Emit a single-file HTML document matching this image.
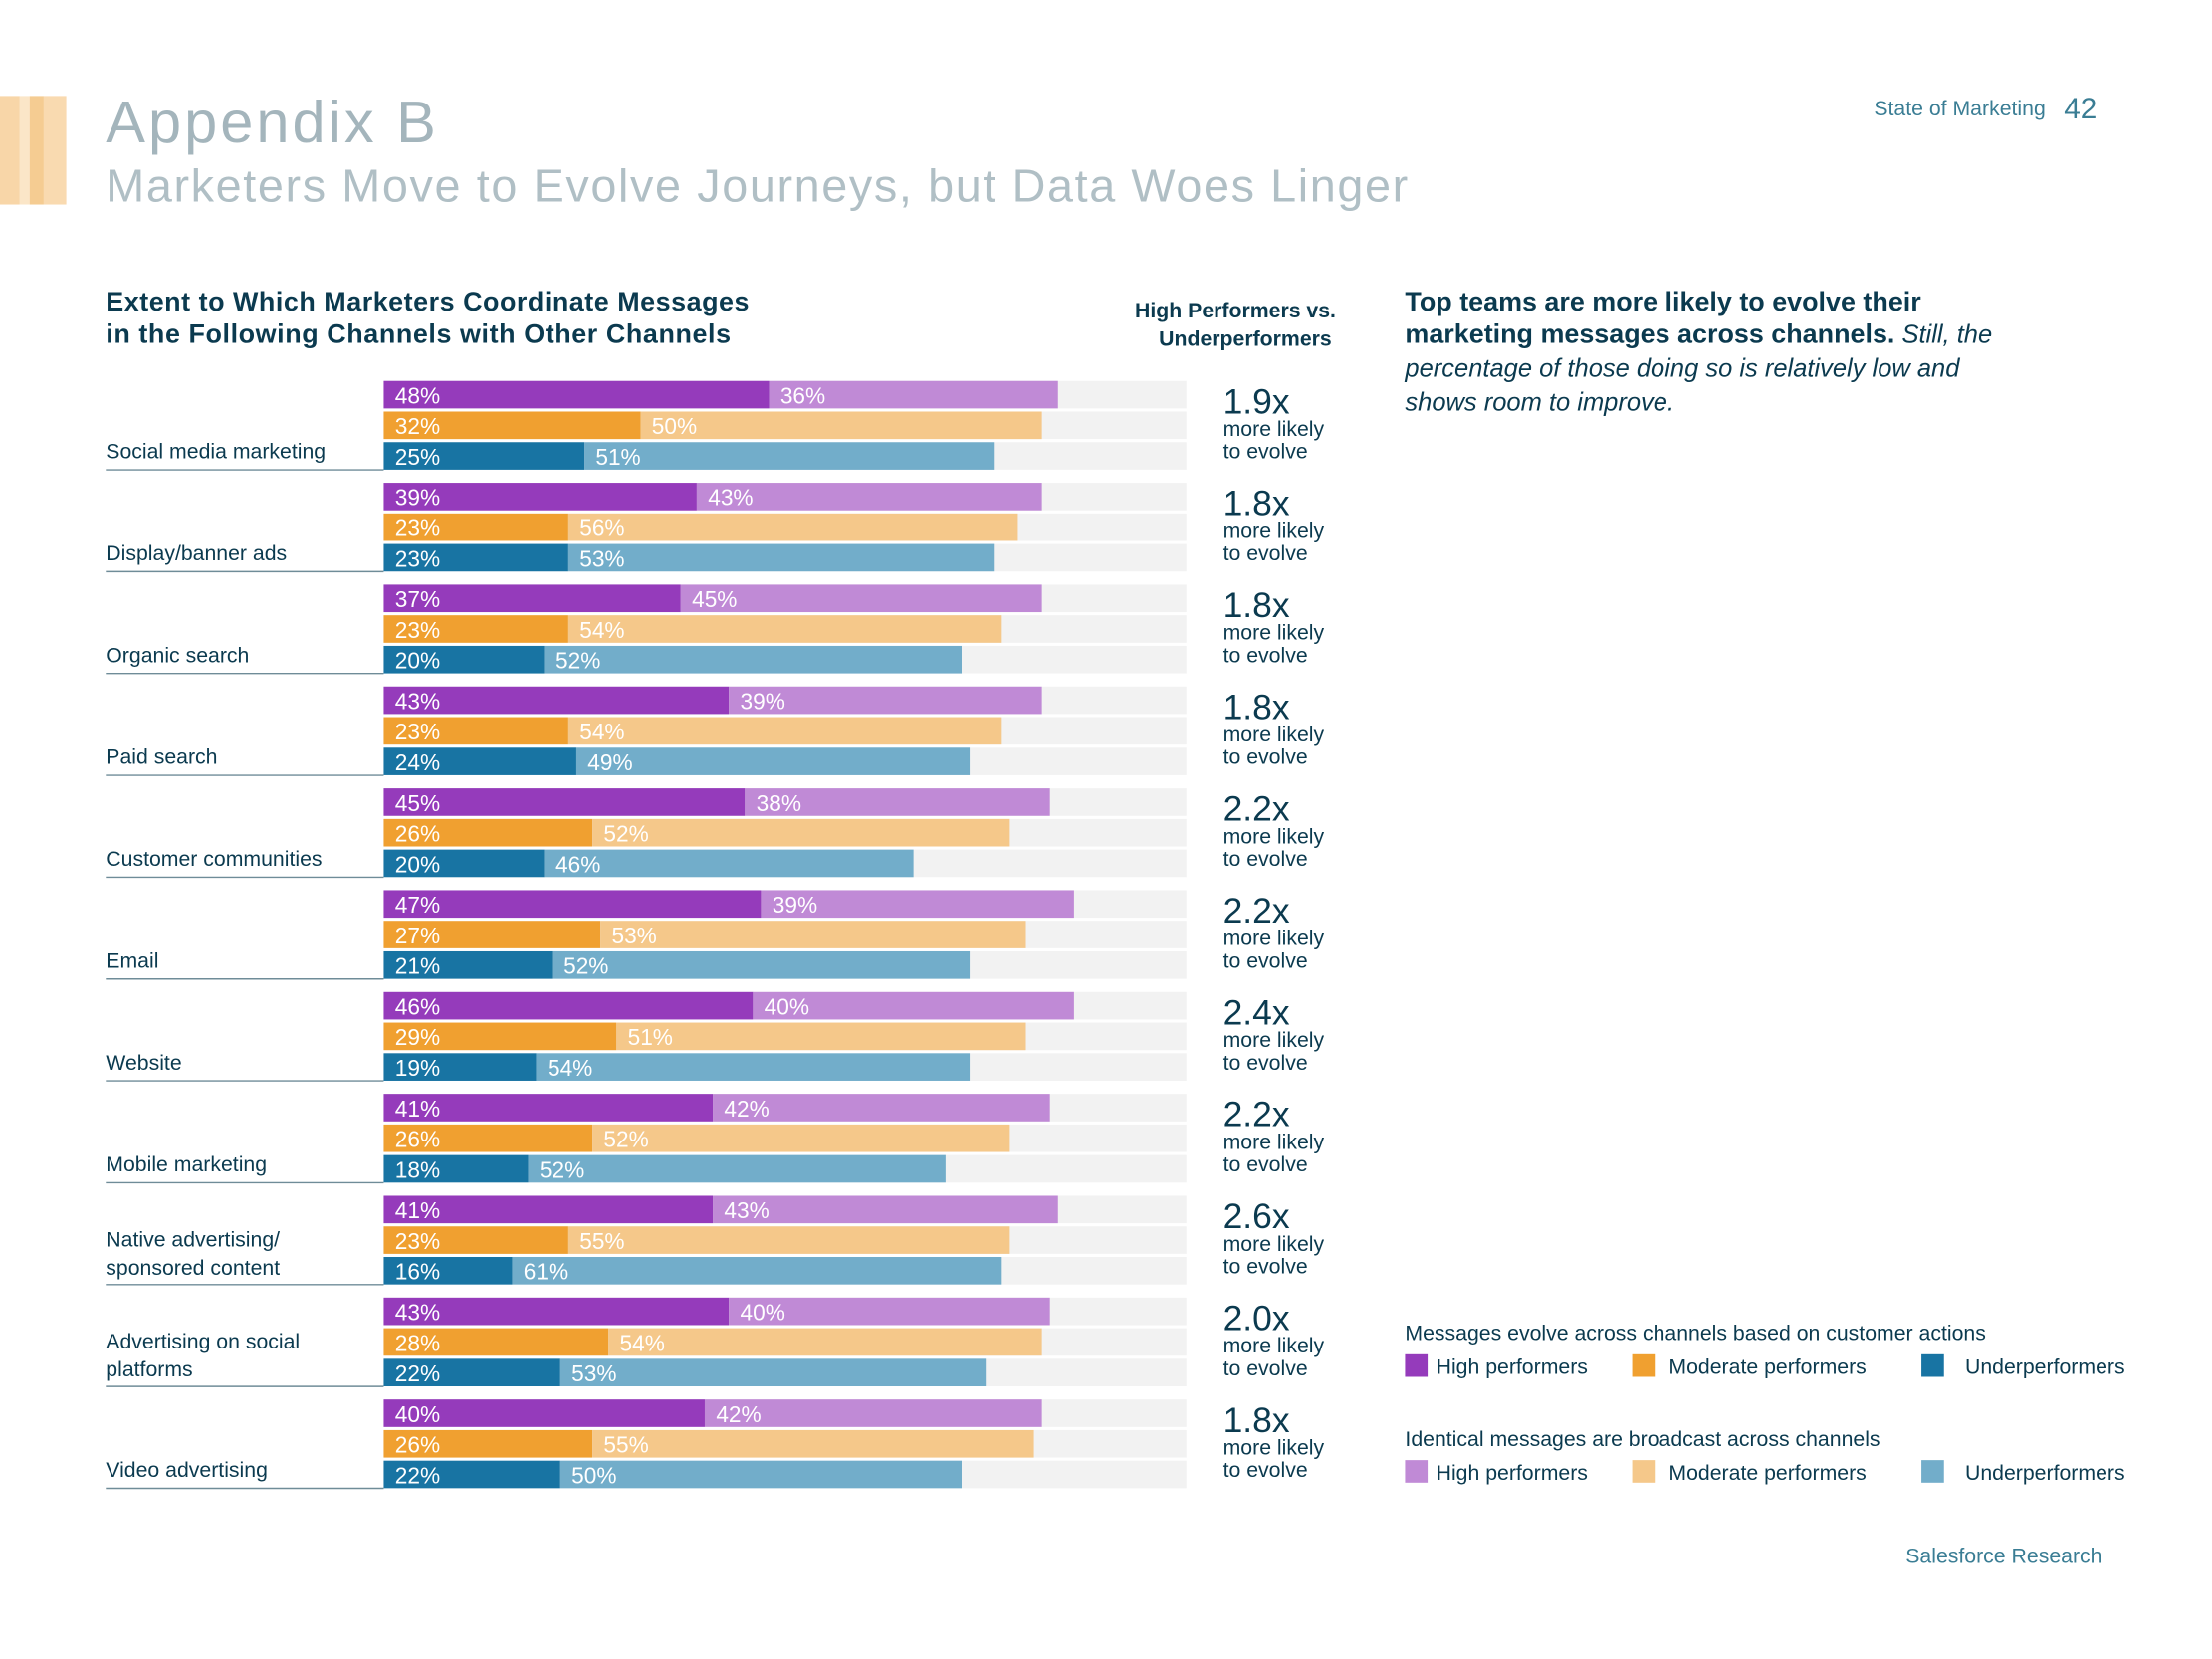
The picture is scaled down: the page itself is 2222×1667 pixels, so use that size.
<!DOCTYPE html>
<html><head><meta charset="utf-8"><style>
html,body{margin:0;padding:0;background:#fff;}
svg{display:block;font-family:"Liberation Sans",sans-serif;}
</style></head><body>
<svg id="chart" width="2222" height="1667" viewBox="0 0 1568 1176" preserveAspectRatio="none" xmlns="http://www.w3.org/2000/svg">
<g>
<rect x="0" y="68" width="14" height="77" fill="#f8d6a8"/>
<rect x="14" y="68" width="7" height="77" fill="#fbe6c8"/>
<rect x="21" y="68" width="10" height="77" fill="#f5cc92"/>
<rect x="31" y="68" width="16" height="77" fill="#f9dab0"/>
</g>
<text x="75" y="101" font-size="42" fill="#a4b5bc" textLength="234">Appendix B</text>
<text x="75" y="143" font-size="33" fill="#b0bfc5" textLength="923">Marketers Move to Evolve Journeys, but Data Woes Linger</text>
<text x="1450" y="82" font-size="15" fill="#3a7d94" text-anchor="end">State of Marketing</text>
<text x="1463" y="84" font-size="21" fill="#3a7d94">42</text>
<text font-size="19" font-weight="bold" fill="#0b3a4f"><tspan x="75" y="220" textLength="456">Extent to Which Marketers Coordinate Messages</tspan><tspan x="75" y="243" textLength="443">in the Following Channels with Other Channels</tspan></text>
<text font-size="15" font-weight="bold" fill="#0b3a4f" text-anchor="end"><tspan x="947" y="225">High Performers vs.</tspan><tspan x="944" y="245">Underperformers</tspan></text>
<text font-size="19" fill="#0b3a4f"><tspan x="996" y="220" font-weight="bold">Top teams are more likely to evolve their</tspan><tspan x="996" y="243" font-weight="bold">marketing messages across channels.</tspan><tspan font-style="italic" font-size="18"> Still, the</tspan><tspan x="996" y="267" font-style="italic" font-size="18">percentage of those doing so is relatively low and</tspan><tspan x="996" y="291" font-style="italic" font-size="18">shows room to improve.</tspan></text>
<g id="bars"></g>
<g>
<text x="996" y="950" font-size="15" fill="#0b3a4f">Messages evolve across channels based on customer actions</text>
<rect x="996" y="960" width="16" height="16" fill="#953bbb"/>
<text x="1018" y="974" font-size="15" fill="#0b3a4f">High performers</text>
<rect x="1157" y="960" width="16" height="16" fill="#f0a030"/>
<text x="1183" y="974" font-size="15" fill="#0b3a4f">Moderate performers</text>
<rect x="1362" y="960" width="16" height="16" fill="#1874a3"/>
<text x="1393" y="974" font-size="15" fill="#0b3a4f">Underperformers</text>
<text x="996" y="1025" font-size="15" fill="#0b3a4f">Identical messages are broadcast across channels</text>
<rect x="996" y="1035" width="16" height="16" fill="#c08ad6"/>
<text x="1018" y="1049" font-size="15" fill="#0b3a4f">High performers</text>
<rect x="1157" y="1035" width="16" height="16" fill="#f5c88a"/>
<text x="1183" y="1049" font-size="15" fill="#0b3a4f">Moderate performers</text>
<rect x="1362" y="1035" width="16" height="16" fill="#72adca"/>
<text x="1393" y="1049" font-size="15" fill="#0b3a4f">Underperformers</text>
</g>
<text x="1490" y="1108" font-size="15" fill="#3a7d94" text-anchor="end">Salesforce Research</text>
</svg>
<script>
const channels = [["Social media marketing"],["Display/banner ads"],["Organic search"],["Paid search"],["Customer communities"],["Email"],["Website"],["Mobile marketing"],["Native advertising/","sponsored content"],["Advertising on social","platforms"],["Video advertising"]];
const highEvolve = [48,39,37,43,45,47,46,41,41,43,40];
const highIdentical = [36,43,45,39,38,39,40,42,43,40,42];
const modEvolve = [32,23,23,23,26,27,29,26,23,28,26];
const modIdentical = [50,56,54,54,52,53,51,52,55,54,55];
const underEvolve = [25,23,20,24,20,21,19,18,16,22,22];
const underIdentical = [51,53,52,49,46,52,54,52,61,53,50];
const multipliers = ["1.9x","1.8x","1.8x","1.8x","2.2x","2.2x","2.4x","2.2x","2.6x","2.0x","1.8x"];

const NS = "http://www.w3.org/2000/svg";
const g = document.getElementById('bars');
const x0 = 272, xw = 569;
const xs = v => xw * v / 100;
const groupY = i => 270 + i * 72.2;
function mk(tag, attrs, parent) {
  const e = document.createElementNS(NS, tag);
  for (const k in attrs) e.setAttribute(k, attrs[k]);
  parent.appendChild(e);
  return e;
}
const series = [
  [highEvolve, highIdentical, '#953bbb', '#c08ad6', 'high'],
  [modEvolve, modIdentical, '#f0a030', '#f5c88a', 'moderate'],
  [underEvolve, underIdentical, '#1874a3', '#72adca', 'under']
];
channels.forEach((lab, i) => {
  const gy = groupY(i);
  series.forEach((s, r) => {
    const y = gy + r * 21.7;
    const track = mk('rect', {x: x0, y: y, width: xw, height: 19.5, fill: '#f2f2f2'}, g);
    
    
    const a = s[0][i], b = s[1][i];
    const r1 = mk('rect', {x: x0, y: y, width: xs(a), height: 19.5, fill: s[2]}, g);
    
    
    const r2 = mk('rect', {x: x0 + xs(a), y: y, width: xs(b), height: 19.5, fill: s[3]}, g);
    
    
    const t1 = mk('text', {x: x0 + 8, y: y + 16, 'font-size': 16, fill: '#fff'}, g);
    t1.textContent = a + '%';
    
    
    const t2 = mk('text', {x: x0 + xs(a) + 8, y: y + 16, 'font-size': 16, fill: '#fff'}, g);
    t2.textContent = b + '%';
    
    
  });
  const lt = mk('text', {'font-size': 15, fill: '#0b3a4f'}, g);
  
  
  if (lab.length === 1) {
    const ts = mk('tspan', {x: 75, y: gy + 55}, lt); ts.textContent = lab[0];
  } else {
    const t1 = mk('tspan', {x: 75, y: gy + 36}, lt); t1.textContent = lab[0];
    const t2 = mk('tspan', {x: 75, y: gy + 56}, lt); t2.textContent = lab[1];
  }
  const ln = mk('line', {x1: 75, x2: 272, y1: gy + 63, y2: gy + 63, stroke: '#6f8c98', 'stroke-width': 1}, g);
  
  
  const m = mk('text', {x: 867, y: gy + 23, 'font-size': 25, fill: '#0b3a4f'}, g);
  m.textContent = multipliers[i];
  
  
  const m2 = mk('text', {'font-size': 15, fill: '#0b3a4f'}, g);
  
  
  const a1 = mk('tspan', {x: 867, y: gy + 39}, m2); a1.textContent = 'more likely';
  const a2 = mk('tspan', {x: 867, y: gy + 55}, m2); a2.textContent = 'to evolve';
});
</script>
</body></html>
